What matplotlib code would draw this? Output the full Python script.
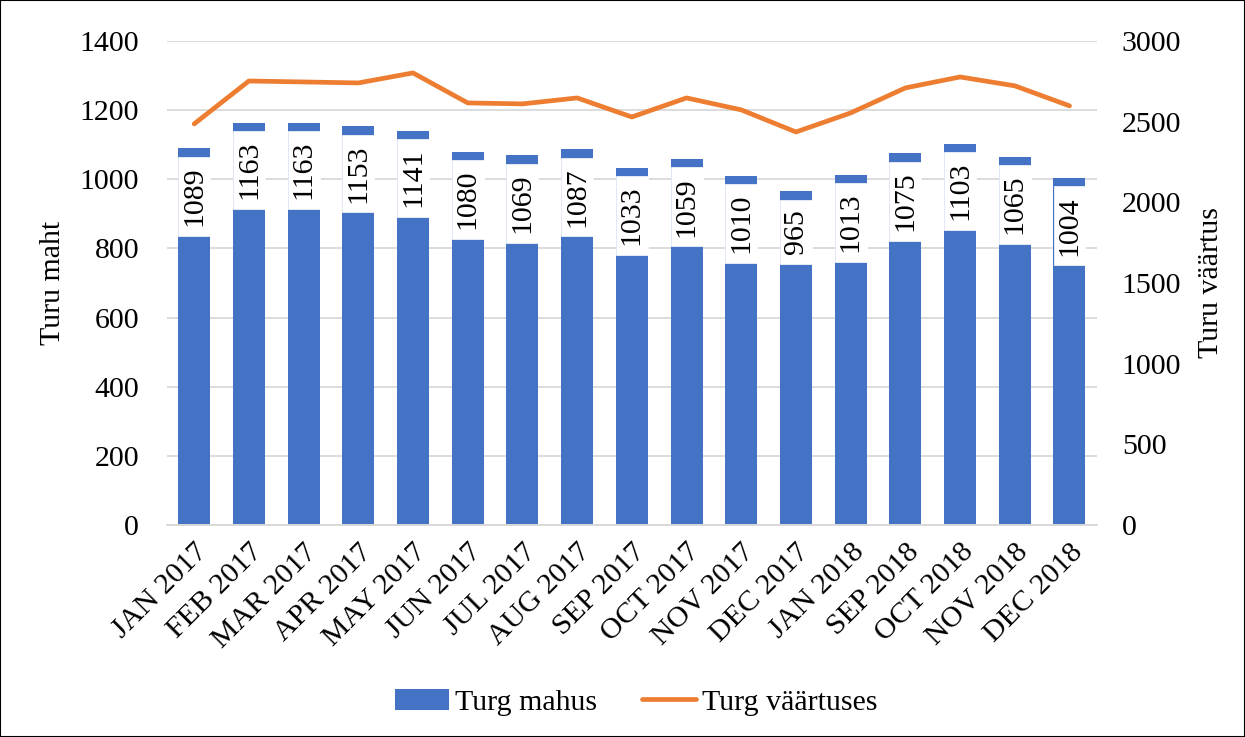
import numpy as np
import matplotlib.pyplot as plt
from matplotlib.path import Path
from matplotlib.patches import Rectangle

plt.rcParams['font.family'] = ['Liberation Serif', 'DejaVu Serif']

months = ["JAN 2017", "FEB 2017", "MAR 2017", "APR 2017", "MAY 2017",
          "JUN 2017", "JUL 2017", "AUG 2017", "SEP 2017", "OCT 2017",
          "NOV 2017", "DEC 2017", "JAN 2018", "SEP 2018", "OCT 2018",
          "NOV 2018", "DEC 2018"]
volume = [1089, 1163, 1163, 1153, 1141, 1080, 1069, 1087, 1033, 1059,
          1010, 965, 1013, 1075, 1103, 1065, 1004]
value = [2486, 2752, 2746, 2740, 2802, 2616, 2610, 2647, 2529, 2647,
         2573, 2436, 2554, 2709, 2777, 2722, 2598]

BLUE = "#4472C4"
ORANGE = "#ED7D31"
GRID = "#D9D9D9"
FS = 21.5


def label_box(x0, y0, width, height, mutation_size):
    # wider padding along the text, tight across it
    px = 0.32 * mutation_size
    py = 0.1 * mutation_size
    return Path([(x0 - px, y0 - py), (x0 + width + px, y0 - py),
                 (x0 + width + px, y0 + height + py), (x0 - px, y0 + height + py),
                 (x0 - px, y0 - py)], closed=True)


fig = plt.figure(figsize=(12.45, 7.37), dpi=100)
ax = fig.add_axes([0.134, 0.2877, 0.747, 0.6567])
ax2 = ax.twinx()

x = np.arange(len(months))
bars = ax.bar(x, volume, width=0.585, color=BLUE, lw=0, zorder=2,
              label="Turg mahus")
for xi, v in zip(x, volume):
    ax.annotate(str(v), (xi, v), xytext=(0, -13), textcoords="offset points",
                rotation=90, ha="center", va="top", fontsize=FS, zorder=3,
                bbox=dict(boxstyle=label_box, fc="white", ec="white", lw=0.5))

line, = ax2.plot(x, value, color=ORANGE, lw=3.4, solid_capstyle="round",
                 label="Turg väärtuses")

ax.set_ylim(0, 1400)
ax.set_yticks(np.arange(0, 1401, 200))
ax2.set_ylim(0, 3000)
ax2.set_yticks(np.arange(0, 3001, 500))
ax.set_xlim(-0.5, len(months) - 0.5)
ax.set_xticks(x)
ax.set_xticklabels(months, rotation=45, ha="right", rotation_mode="anchor",
                   fontsize=FS)

ax.grid(axis="y", color=GRID, lw=1.3, zorder=0)
ax.set_axisbelow(True)
for a in (ax, ax2):
    for s in ("top", "left", "right"):
        a.spines[s].set_visible(False)
    a.spines["bottom"].set_color(GRID)
    a.spines["bottom"].set_linewidth(1.3)
    a.tick_params(length=0, labelsize=FS)
ax.tick_params(axis="y", pad=20)
ax2.tick_params(axis="y", pad=18)
ax.tick_params(axis="x", pad=10)

ax.set_ylabel("Turu maht", fontsize=FS, labelpad=10)
ax2.set_ylabel("Turu väärtus", fontsize=FS, labelpad=12)

fig.legend([bars, line], ["Turg mahus", "Turg väärtuses"], loc="center",
           bbox_to_anchor=(0.511, 0.047), ncol=2, frameon=False, fontsize=FS,
           handlelength=1.8, handletextpad=0.2, columnspacing=1.5)

fig.patches.append(Rectangle((0, 0), 1, 1, transform=fig.transFigure,
                             fill=False, ec="black", lw=1.5))

fig.savefig("out.png", dpi=100)
